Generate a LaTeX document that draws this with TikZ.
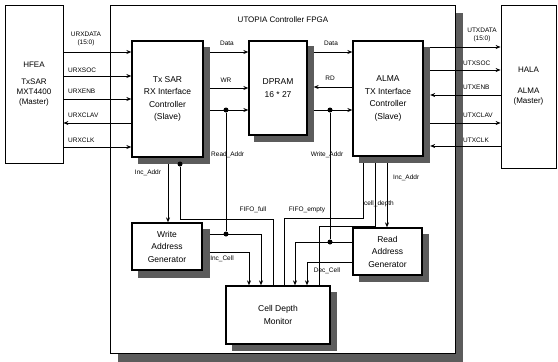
\documentclass[tikz,border=0pt]{standalone}
\usepackage{fontspec}
\setmainfont{Liberation Sans}
\usetikzlibrary{arrows.meta}
\definecolor{shdgray}{RGB}{92,92,92}
\begin{document}
\begin{tikzpicture}[x=1pt,y=-1pt,
  blk/.style={draw,line width=1.3pt,fill=white,inner sep=0pt,align=center,font=\fontsize{8.5}{12.5}\selectfont},
  outer/.style={draw,line width=0.8pt,inner sep=0pt,align=center,font=\fontsize{8}{10}\selectfont},
  lbl/.style={font=\fontsize{6.5}{8.5}\selectfont,inner sep=0pt,align=center},
  sig/.style={line width=0.8pt},
  arr/.style={sig,-{Stealth[length=5pt,width=4pt]}},
  rarr/.style={sig,{Stealth[length=5pt,width=4pt]}-},
  jdot/.style={circle,fill=black,inner sep=0pt,minimum size=5pt}]
\useasboundingbox (0,0) rectangle (558,362);
% shadows (drawn first, no white-filled FPGA box over them)
\fill[shdgray] (455.4,13) rectangle (463,362);
\fill[shdgray] (118,353.4) rectangle (463,362);
\fill[shdgray] (137.85,46.85) rectangle (210.15,164.15);
\fill[shdgray] (254.35,46.35) rectangle (313.65,141.65);
\fill[shdgray] (358.85,46.85) rectangle (430.15,163.15);
\fill[shdgray] (138.35,229.35) rectangle (209.65,277.65);
\fill[shdgray] (231.85,291.85) rectangle (337.15,351.15);
\fill[shdgray] (358.85,233.85) rectangle (429.15,282.15);
% outer boxes
\node[outer,minimum width=58pt,minimum height=158pt] (hfea) at (34,84) {HFEA\\[7pt]TxSAR\\MXT4400\\(Master)};
\node[outer,minimum width=55pt,minimum height=163pt] (hala) at (528.5,86.5) {HALA\\[11pt]ALMA\\(Master)};
\node[outer,minimum width=345pt,minimum height=348pt] (fpga) at (282.5,179) {};
\node[lbl,font=\fontsize{8}{10}\selectfont] (title) at (283,20) {UTOPIA Controller FPGA};
% inner blocks
\node[blk,minimum width=71pt,minimum height=116pt] (rx) at (167.5,99) {Tx SAR\\RX Interface\\Controller\\(Slave)};
\node[blk,minimum width=58pt,minimum height=94pt] (dpram) at (278,88) {DPRAM\\16 * 27};
\node[blk,minimum width=70pt,minimum height=115pt] (alma) at (388,98.5) {ALMA\\TX Interface\\Controller\\(Slave)};
\node[blk,minimum width=70pt,minimum height=47pt] (wag) at (167,246.5) {Write\\Address\\Generator};
\node[blk,minimum width=104pt,minimum height=58pt] (cdm) at (278,315) {Cell Depth\\Monitor};
\node[blk,minimum width=69pt,minimum height=47pt] (rag) at (387.5,251.5) {Read\\Address\\Generator};
\coordinate (rxs) at (210.15,0);
\coordinate (dps) at (313.65,0);
\coordinate (ae) at (430.15,0);
\coordinate (wgs) at (209.65,0);
% left signals
\draw[arr] (hfea.east |- 0,52) -- (rx.west |- 0,52);
\draw[arr] (hfea.east |- 0,76) -- (rx.west |- 0,76);
\draw[arr] (hfea.east |- 0,99) -- (rx.west |- 0,99);
\draw[rarr] (hfea.east |- 0,123) -- (rx.west |- 0,123);
\draw[arr] (hfea.east |- 0,147) -- (rx.west |- 0,147);
\node[lbl] (l1) at (86,39) {URXDATA\\(15:0)};
\node[lbl,anchor=west] (l2) at (68,70) {URXSOC};
\node[lbl,anchor=west] (l3) at (68,91) {URXENB};
\node[lbl,anchor=west] (l4) at (68,115) {URXCLAV};
\node[lbl,anchor=west] (l5) at (68,140) {URXCLK};
% right signals
\draw[arr] (ae |- 0,47) -- (hala.west |- 0,47);
\draw[arr] (ae |- 0,70) -- (hala.west |- 0,70);
\draw[rarr] (ae |- 0,95) -- (hala.west |- 0,95);
\draw[arr] (ae |- 0,123) -- (hala.west |- 0,123);
\draw[rarr] (ae |- 0,146) -- (hala.west |- 0,146);
\node[lbl] (r1) at (482,35) {UTXDATA\\(15:0)};
\node[lbl,anchor=west] (r2) at (463,63) {UTXSOC};
\node[lbl,anchor=west] (r3) at (463,87) {UTXENB};
\node[lbl,anchor=west] (r4) at (463,115) {UTXCLAV};
\node[lbl,anchor=west] (r5) at (463,140) {UTXCLK};
% RX -> DPRAM
\draw[arr] (rxs |- 0,52) -- (dpram.west |- 0,52);
\draw[arr] (rxs |- 0,88) -- (dpram.west |- 0,88);
\draw[arr] (rxs |- 0,110) -- (dpram.west |- 0,110);
\node[lbl] (d1) at (227,43) {Data};
\node[lbl] (d2) at (226,80) {WR};
\node[jdot] (j1) at (226,110) {};
% DPRAM -> ALMA
\draw[arr] (dps |- 0,52) -- (alma.west |- 0,52);
\draw[rarr] (dps |- 0,87) -- (alma.west |- 0,87);
\draw[arr] (dps |- 0,110) -- (alma.west |- 0,110);
\node[lbl] (d3) at (331,43) {Data};
\node[lbl] (d4) at (330,78) {RD};
\node[jdot] (j2) at (330,110) {};
% Read_Addr / write generator
\node[jdot] (j3) at (226,234) {};
\draw[sig] (j1) -- (j3);
\node[lbl,anchor=west] (ra) at (211,155) {Read\_Addr};
\draw[arr] (wgs |- 0,234) -- (261,234) -- (261,0 |- cdm.north);
\draw[arr] (wgs |- 0,252) -- (249,252) -- (249,0 |- cdm.north);
\node[lbl] (ic) at (222,259) {Inc\_Cell};
\draw[arr] (168,164.2) -- (168,0 |- wag.north);
\node[lbl] (ia) at (148,173) {Inc\_Addr};
\node[jdot] (j4) at (180,164) {};
\draw[sig] (j4) -- (180,219) -- (273,219) -- (273,0 |- cdm.north);
\node[lbl] (ff) at (253,210) {FIFO\_full};
% ALMA side
\draw[sig] (284,0 |- cdm.north) -- (284,218) -- (363,218) -- (363,163);
\node[lbl] (fe) at (307,210) {FIFO\_empty};
\draw[sig] (319,0 |- cdm.north) -- (319,226) -- (375,226) -- (375,163);
\node[lbl] (cd) at (379,204) {cell\_depth};
\draw[arr] (387,163) -- (387,0 |- rag.north);
\node[lbl,anchor=west] (ia2) at (393,178) {Inc\_Addr};
\node[jdot] (j5) at (330,242) {};
\draw[sig] (j2) -- (j5);
\node[lbl] (wa) at (327,155) {Write\_Addr};
\draw[arr] (rag.west |- 0,242) -- (295,242) -- (295,0 |- cdm.north);
\draw[arr] (rag.west |- 0,262) -- (307,262) -- (307,0 |- cdm.north);
\node[lbl] (dc) at (327,271) {Dec\_Cell};
\end{tikzpicture}
\end{document}
